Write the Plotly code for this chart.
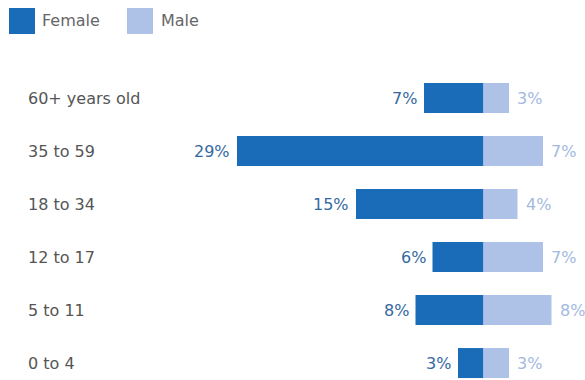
import plotly.graph_objects as go

categories = ["0 to 4", "5 to 11", "12 to 17", "18 to 34", "35 to 59", "60+ years old"]
female = [3, 8, 6, 15, 29, 7]
male = [3, 8, 7, 4, 7, 3]

FEMALE_C = "#1a6cb8"
MALE_C = "#adc2e6"
FEMALE_T = "#34699f"
MALE_T = "#a3b9e0"
LABEL_C = "#555555"
FONT = "'DejaVu Sans', sans-serif"
FS = 16

fig = go.Figure()
fig.add_trace(go.Bar(y=categories, x=[-v for v in female], orientation="h",
                     marker=dict(color=FEMALE_C, line=dict(width=0)), name="Female",
                     hoverinfo="skip"))
fig.add_trace(go.Bar(y=categories, x=male, orientation="h",
                     marker=dict(color=MALE_C, line=dict(width=0)), name="Male",
                     hoverinfo="skip"))

ann = []
for c, f, m in zip(categories, female, male):
    ann.append(dict(x=-f, y=c, xref="x", yref="y", text=f"{f}%", showarrow=False,
                    xanchor="right", xshift=-5, font=dict(family=FONT, size=FS, color=FEMALE_T)))
    ann.append(dict(x=m, y=c, xref="x", yref="y", text=f"{m}%", showarrow=False,
                    xanchor="left", xshift=6, font=dict(family=FONT, size=FS, color=MALE_T)))
    ann.append(dict(x=-53.6, y=c, xref="x", yref="y", text=c, showarrow=False,
                    xanchor="left", xshift=-2, font=dict(family=FONT, size=FS, color=LABEL_C)))

# legend
W, H = 585, 380
ann.append(dict(x=40 / W, y=1 - 21 / H, xref="paper", yref="paper", text="Female", showarrow=False,
                xanchor="left", yanchor="middle", font=dict(family=FONT, size=FS, color="#666666")))
ann.append(dict(x=159 / W, y=1 - 21 / H, xref="paper", yref="paper", text="Male", showarrow=False,
                xanchor="left", yanchor="middle", font=dict(family=FONT, size=FS, color="#666666")))
shapes = [
    dict(type="rect", xref="paper", yref="paper", x0=9 / W, x1=35 / W, y0=1 - 34 / H, y1=1 - 8 / H,
         fillcolor=FEMALE_C, line=dict(width=0)),
    dict(type="rect", xref="paper", yref="paper", x0=127 / W, x1=153 / W, y0=1 - 34 / H, y1=1 - 8 / H,
         fillcolor=MALE_C, line=dict(width=0)),
]

fig.update_layout(
    width=W, height=H,
    margin=dict(l=0, r=0, t=0, b=0),
    barmode="relative", bargap=0.434,
    showlegend=False,
    plot_bgcolor="white", paper_bgcolor="white",
    xaxis=dict(range=[-56.88, 11.94], visible=False, fixedrange=True),
    yaxis=dict(categoryorder="array", categoryarray=categories, range=[-0.32, 5.717 + 60 / 53],
               visible=False, fixedrange=True),
    annotations=ann, shapes=shapes,
)
fig.write_html("out.html")
